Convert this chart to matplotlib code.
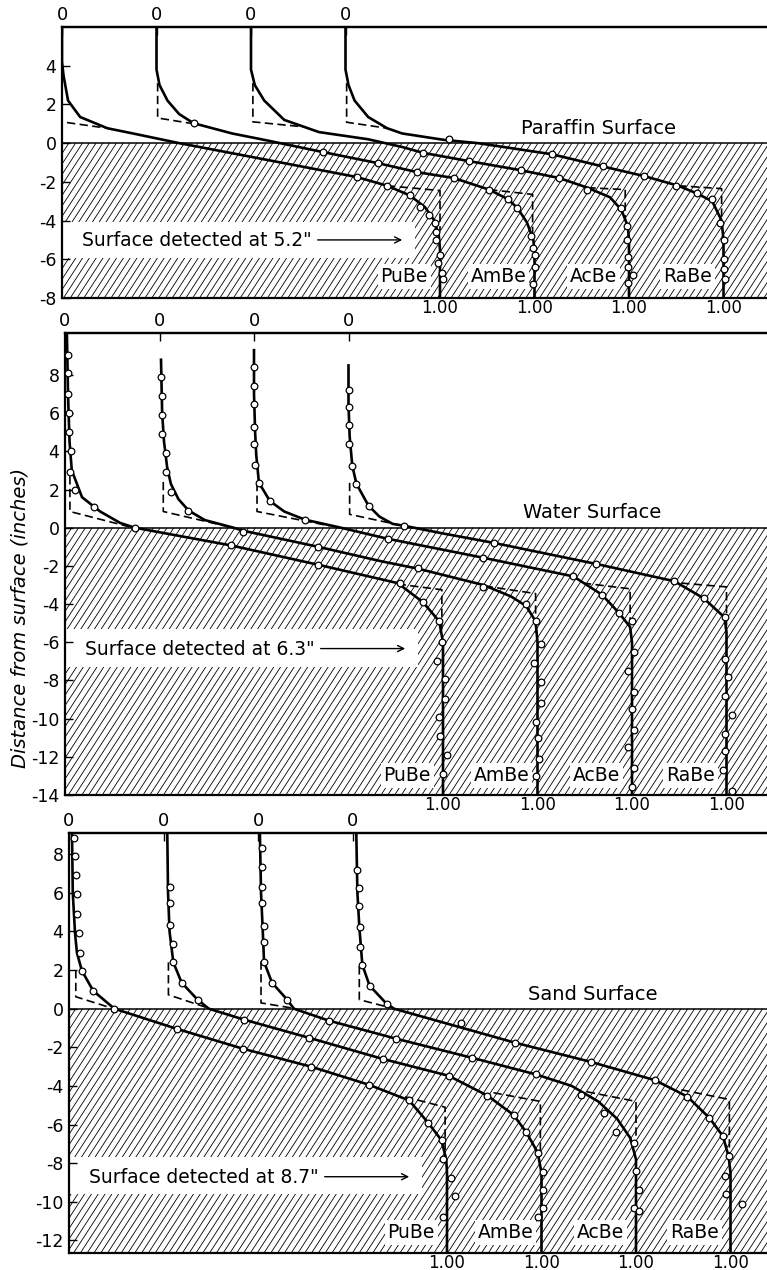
import numpy as np
import matplotlib
matplotlib.use("Agg")
import matplotlib.pyplot as plt
from matplotlib.collections import LineCollection
from matplotlib.patches import Rectangle

plt.rcParams['font.family'] = ['DejaVu Sans']
plt.rcParams['axes.unicode_minus'] = False

# ---------------- data ----------------
sources = ['PuBe', 'AmBe', 'AcBe', 'RaBe']
source_offsets = [0.0, 0.25, 0.5, 0.75]
surface_names = ['Paraffin Surface', 'Water Surface', 'Sand Surface']
detected_labels = ['5.2', '6.3', '8.7']
detected_text_y = [-5.05, -6.38, -8.75]
panel_ylim = [(-8.0, 6.0), (-14.0, 10.2), (-12.65, 9.1)]
panel_yticks = [list(range(-8, 5, 2)), list(range(-14, 9, 2)), list(range(-12, 9, 2))]

# --- Paraffin ---
paraffin_line_x = [
    [0.0, 0.0, 0.004, 0.016, 0.048, 0.12, 0.20, 0.31, 0.45, 0.60, 0.78, 0.86, 0.92, 0.96, 0.985, 0.997, 1.0, 1.0],
    [0.0, 0.0, 0.008, 0.029, 0.06, 0.098, 0.2, 0.29, 0.44, 0.585, 0.69, 0.786, 0.88, 0.93, 0.955, 0.98, 0.997, 1.0, 1.0],
    [0.0, 0.0, 0.01, 0.035, 0.088, 0.18, 0.31, 0.40, 0.455, 0.577, 0.714, 0.815, 0.89, 0.95, 0.98, 0.997, 1.0, 1.0],
    [0.0, 0.0, 0.008, 0.024, 0.06, 0.11, 0.15, 0.26, 0.35, 0.545, 0.68, 0.79, 0.88, 0.93, 0.97, 0.995, 1.0, 1.0],
]
paraffin_line_y = [
    [6.0, 4.2, 3.5, 2.2, 1.35, 0.77, 0.45, 0.0, -0.52, -1.08, -1.75, -2.2, -2.7, -3.3, -4.0, -4.8, -5.5, -8.0],
    [6.0, 3.8, 3.0, 2.2, 1.5, 1.03, 0.5, 0.15, -0.46, -1.03, -1.5, -1.8, -2.4, -2.9, -3.35, -4.1, -5.0, -5.6, -8.0],
    [6.0, 3.8, 3.0, 2.2, 1.2, 0.57, 0.2, -0.2, -0.5, -0.93, -1.4, -1.8, -2.3, -2.8, -3.45, -4.3, -5.0, -8.0],
    [6.0, 3.8, 3.0, 2.2, 1.35, 0.77, 0.5, 0.17, 0.0, -0.57, -1.2, -1.7, -2.2, -2.6, -3.0, -4.0, -5.0, -8.0],
]
paraffin_dash_top_x = [[0.0, 0.0, 0.12], [0.003, 0.003, 0.098], [0.005, 0.005, 0.14], [0.003, 0.003, 0.11]]
paraffin_dash_top_y = [[2.8, 1.1, 0.77], [3.1, 1.3, 1.0], [3.1, 1.1, 0.84], [3.1, 1.08, 0.77]]
paraffin_dash_bot_x = [[0.86, 1.0, 1.0], [0.88, 0.995, 0.995], [0.89, 0.99, 0.99], [0.88, 0.995, 0.995]]
paraffin_dash_bot_y = [[-2.2, -2.45, -4.5], [-2.4, -2.65, -5.0], [-2.3, -2.4, -4.0], [-2.2, -2.35, -4.0]]
paraffin_pts_x = [
    [0.78, 0.86, 0.92, 0.947, 0.97, 0.987, 0.99, 0.99, 1.0, 0.995, 1.005, 1.008],
    [0.098, 0.44, 0.585, 0.69, 0.786, 0.88, 0.93, 0.955, 0.99, 0.995, 1.0, 1.0, 0.997],
    [0.455, 0.577, 0.714, 0.815, 0.89, 0.98, 0.995, 0.995, 0.997, 0.997, 1.01, 0.997],
    [0.275, 0.545, 0.68, 0.79, 0.875, 0.93, 0.97, 0.99, 1.0, 1.0, 1.0, 1.005],
]
paraffin_pts_y = [
    [-1.75, -2.2, -2.7, -3.3, -3.7, -4.1, -4.6, -5.0, -5.8, -6.2, -6.7, -7.0],
    [1.03, -0.46, -1.03, -1.5, -1.8, -2.4, -2.9, -3.35, -4.8, -5.4, -5.8, -6.4, -7.3],
    [-0.5, -0.93, -1.4, -1.8, -2.4, -3.35, -4.3, -5.0, -5.9, -6.4, -6.8, -7.2],
    [0.2, -0.57, -1.2, -1.7, -2.2, -2.6, -2.9, -4.1, -5.0, -6.0, -6.5, -7.0],
]

# --- Water ---
water_line_x = [
    [0.005, 0.008, 0.012, 0.018, 0.045, 0.093, 0.146, 0.185, 0.30, 0.44, 0.67, 0.88, 0.947, 0.99, 1.0, 1.0],
    [0.004, 0.007, 0.012, 0.02, 0.03, 0.05, 0.077, 0.12, 0.196, 0.22, 0.42, 0.585, 0.685, 0.857, 0.93, 0.97, 0.995, 1.0, 1.0],
    [0.0, 0.0, 0.003, 0.006, 0.013, 0.042, 0.08, 0.135, 0.23, 0.354, 0.606, 0.845, 0.92, 0.965, 0.995, 1.0, 1.0],
    [0.0, 0.0, 0.003, 0.01, 0.021, 0.053, 0.082, 0.117, 0.148, 0.25, 0.386, 0.656, 0.862, 0.94, 0.995, 1.0, 1.0],
]
water_line_y = [
    [10.2, 7.0, 4.5, 3.0, 1.6, 0.85, 0.25, 0.0, -0.42, -0.93, -1.94, -2.9, -3.9, -4.9, -6.0, -14.0],
    [8.8, 6.0, 4.5, 3.2, 2.3, 1.5, 0.9, 0.4, 0.0, -0.15, -1.0, -1.75, -2.15, -3.0, -3.6, -4.1, -4.9, -6.0, -14.0],
    [9.3, 7.0, 5.0, 3.8, 2.36, 1.4, 0.85, 0.42, 0.0, -0.58, -1.57, -2.55, -3.5, -4.45, -5.2, -6.0, -14.0],
    [8.5, 6.5, 4.8, 3.25, 2.3, 1.15, 0.58, 0.2, 0.1, -0.3, -0.8, -1.9, -2.8, -3.7, -4.7, -5.5, -14.0],
]
water_dash_top_x = [[0.013, 0.013, 0.17], [0.01, 0.01, 0.19], [0.008, 0.008, 0.2], [0.003, 0.003, 0.14]]
water_dash_top_y = [[2.7, 0.85, 0.05], [2.4, 0.85, 0.02], [2.35, 0.85, 0.1], [2.35, 0.7, 0.12]]
water_dash_bot_x = [[0.88, 0.997, 0.997], [0.86, 0.995, 0.995], [0.87, 0.995, 0.995], [0.88, 1.0, 1.0]]
water_dash_bot_y = [[-2.95, -3.25, -5.5], [-3.05, -3.45, -5.5], [-2.9, -3.2, -5.0], [-2.9, -3.1, -5.4]]
water_pts_x = [
    [0.008, 0.008, 0.008, 0.01, 0.01, 0.016, 0.013, 0.026, 0.077, 0.185, 0.44, 0.67, 0.886, 0.947, 0.99,
     0.997, 0.984, 1.005, 1.005, 0.99, 0.992, 1.01, 1.0],
    [0.004, 0.007, 0.007, 0.007, 0.017, 0.017, 0.03, 0.075, 0.22, 0.42, 0.685, 0.857, 0.97, 0.995,
     1.01, 0.99, 1.01, 1.01, 0.995, 1.0, 1.005, 0.995],
    [0.0, 0.0, 0.0, 0.0, 0.0, 0.003, 0.013, 0.042, 0.135, 0.354, 0.606, 0.845, 0.92, 0.965, 1.0,
     1.005, 0.99, 1.005, 1.0, 1.005, 0.99, 1.005, 1.0],
    [0.0, 0.0, 0.0, 0.0, 0.01, 0.021, 0.053, 0.148, 0.386, 0.656, 0.862, 0.94, 0.995,
     0.995, 1.005, 0.995, 1.015, 0.997, 0.997, 0.99, 1.015],
]
water_pts_y = [
    [9.06, 8.1, 7.0, 6.0, 5.0, 4.0, 2.9, 2.0, 1.1, 0.0, -0.93, -1.94, -2.9, -3.9, -4.9,
     -5.97, -6.96, -7.9, -8.95, -9.94, -10.9, -11.9, -12.9],
    [7.9, 6.9, 5.9, 4.9, 3.9, 2.9, 1.85, 0.9, -0.2, -1.0, -2.1, -3.1, -4.0, -4.9,
     -6.1, -7.1, -8.1, -9.2, -10.2, -11.0, -12.1, -13.0],
    [8.4, 7.4, 6.5, 5.3, 4.4, 3.3, 2.36, 1.4, 0.42, -0.58, -1.57, -2.55, -3.5, -4.45, -4.9,
     -6.5, -7.5, -8.6, -9.5, -10.6, -11.5, -12.6, -13.6],
    [7.2, 6.3, 5.4, 4.4, 3.25, 2.3, 1.15, 0.1, -0.8, -1.9, -2.8, -3.7, -4.7,
     -6.9, -7.8, -8.8, -9.8, -10.8, -11.7, -12.7, -13.8],
]

# --- Sand ---
sand_line_x = [
    [0.008, 0.01, 0.016, 0.021, 0.034, 0.064, 0.12, 0.285, 0.46, 0.64, 0.794, 0.9, 0.95, 0.985, 0.998, 1.0, 1.0],
    [0.01, 0.012, 0.016, 0.026, 0.048, 0.09, 0.12, 0.214, 0.384, 0.58, 0.754, 0.857, 0.926, 0.96, 0.99, 1.0, 1.0],
    [0.005, 0.008, 0.012, 0.016, 0.037, 0.077, 0.095, 0.188, 0.365, 0.566, 0.735, 0.83, 0.9, 0.95, 0.985, 1.0, 1.0],
    [0.01, 0.013, 0.018, 0.026, 0.045, 0.09, 0.11, 0.27, 0.43, 0.63, 0.8, 0.886, 0.944, 0.98, 0.995, 1.0, 1.0],
]
sand_line_y = [
    [9.1, 6.0, 3.9, 2.9, 1.97, 0.93, 0.0, -1.04, -2.07, -3.0, -3.94, -4.75, -5.9, -6.8, -7.8, -8.5, -12.65],
    [9.1, 6.0, 4.0, 2.4, 1.35, 0.47, 0.0, -0.57, -1.5, -2.6, -3.47, -4.5, -5.5, -6.4, -7.45, -8.5, -12.65],
    [9.1, 6.0, 4.3, 2.43, 1.35, 0.47, 0.0, -0.62, -1.55, -2.54, -3.4, -4.0, -4.8, -5.7, -6.7, -7.8, -12.65],
    [9.1, 6.0, 4.25, 2.28, 1.2, 0.26, 0.0, -0.88, -1.76, -2.75, -3.7, -4.55, -5.65, -6.6, -7.65, -8.5, -12.65],
]
sand_dash_top_x = [[0.018, 0.018, 0.11], [0.013, 0.013, 0.116], [0.008, 0.008, 0.095], [0.018, 0.018, 0.1]]
sand_dash_top_y = [[2.0, 0.62, 0.05], [2.4, 0.72, 0.05], [2.45, 0.3, 0.02], [2.2, 0.47, 0.05]]
sand_dash_bot_x = [[0.889, 0.995, 0.995], [0.873, 0.997, 0.997], [0.87, 1.0, 1.0], [0.87, 0.997, 0.997]]
sand_dash_bot_y = [[-4.56, -5.1, -7.8], [-4.35, -4.8, -7.5], [-4.3, -4.8, -7.0], [-4.2, -4.7, -7.5]]
sand_pts_x = [
    [0.013, 0.016, 0.018, 0.021, 0.021, 0.026, 0.029, 0.034, 0.063, 0.12, 0.285, 0.46, 0.64, 0.794,
     0.9, 0.95, 0.987, 0.99, 1.01, 1.02, 0.99],
    [0.016, 0.016, 0.016, 0.024, 0.026, 0.048, 0.09, 0.214, 0.384, 0.58, 0.754, 0.857, 0.926, 0.958,
     0.992, 1.005, 1.005, 1.005, 0.992],
    [0.01, 0.01, 0.01, 0.01, 0.016, 0.016, 0.016, 0.037, 0.077, 0.188, 0.365, 0.566, 0.735, 0.855,
     0.915, 0.947, 0.995, 1.0, 1.008, 0.995, 1.008],
    [0.013, 0.016, 0.016, 0.019, 0.021, 0.026, 0.045, 0.09, 0.286, 0.43, 0.63, 0.8, 0.886, 0.944,
     0.98, 0.995, 0.985, 0.987, 1.03],
]
sand_pts_y = [
    [8.86, 7.9, 6.95, 5.96, 4.9, 3.9, 2.9, 1.97, 0.93, 0.0, -1.04, -2.07, -3.0, -3.94,
     -4.75, -5.9, -6.8, -7.8, -8.76, -9.7, -10.8],
    [6.3, 5.5, 4.35, 3.37, 2.4, 1.35, 0.47, -0.57, -1.5, -2.6, -3.47, -4.5, -5.5, -6.4,
     -7.45, -8.45, -9.4, -10.3, -10.8],
    [8.3, 7.35, 6.3, 5.5, 4.3, 3.47, 2.43, 1.35, 0.47, -0.62, -1.55, -2.54, -3.4, -4.45,
     -5.4, -6.4, -6.96, -8.4, -9.4, -10.3, -10.5],
    [7.2, 6.25, 5.3, 4.25, 3.2, 2.28, 1.2, 0.26, -0.73, -1.75, -2.75, -3.7, -4.55, -5.65,
     -6.6, -7.65, -8.65, -9.6, -10.1],
]

panels = [
    (paraffin_line_x, paraffin_line_y, paraffin_dash_top_x, paraffin_dash_top_y,
     paraffin_dash_bot_x, paraffin_dash_bot_y, paraffin_pts_x, paraffin_pts_y),
    (water_line_x, water_line_y, water_dash_top_x, water_dash_top_y,
     water_dash_bot_x, water_dash_bot_y, water_pts_x, water_pts_y),
    (sand_line_x, sand_line_y, sand_dash_top_x, sand_dash_top_y,
     sand_dash_bot_x, sand_dash_bot_y, sand_pts_x, sand_pts_y),
]

# ---------------- layout (pixels) ----------------
W, H = 767, 1270
PX_PER_UNIT = 378.0
panel_geom = [(62, 27, 298), (65, 333, 795), (69, 833, 1253)]  # left, top, bottom
surface_label_x = [1.418, 1.394, 1.386]
surface_label_y = [0.46, 0.52, 0.47]
label_box_y = [(-5.95, -4.05), (-7.3, -5.3), (-9.6, -7.7)]
src_label_y = [-6.9, -12.98, -11.6]

fig = plt.figure(figsize=(W / 100, H / 100), dpi=100)

axes = []
for p, (left, top, bottom) in enumerate(panel_geom):
    ax = fig.add_axes([left / W, 1 - bottom / H, (W - left) / W, (bottom - top) / H])
    axes.append(ax)
    xmax = (W - left) / PX_PER_UNIT
    ymin, ymax = panel_ylim[p]
    ax.set_xlim(0, xmax)
    ax.set_ylim(ymin, ymax)
    for s in ['left', 'top', 'bottom']:
        ax.spines[s].set_linewidth(1.6)
    ax.spines['right'].set_visible(False)

    # hatch below surface
    w_px = W - left
    h_px = bottom - top
    y0_frac = (0 - ymin) / (ymax - ymin)
    hh = y0_frac * h_px
    ang = np.radians(57)
    dx = hh / np.tan(ang)
    xs = np.arange(-dx, w_px + 5, 6.8)
    segs = [[(x / w_px, 0.0), ((x + dx) / w_px, y0_frac)] for x in xs]
    lc = LineCollection(segs, transform=ax.transAxes, colors='black', linewidths=0.6, zorder=1)
    ax.add_collection(lc)

    # white box behind "surface detected"
    b0, b1 = label_box_y[p]
    ax.add_patch(Rectangle((0, b0), 0.935, b1 - b0, facecolor='white', edgecolor='none', zorder=1.5))

    ax.axhline(0, color='black', lw=1.1, zorder=2)

    lx, ly, dtx, dty, dbx, dby, px_, py_ = panels[p]
    for k, off in enumerate(source_offsets):
        ax.plot(np.array(dtx[k]) + off, dty[k], color='black', lw=1.2, dashes=[5, 2.6], zorder=3)
        ax.plot(np.array(dbx[k]) + off, dby[k], color='black', lw=1.2, dashes=[5, 2.6], zorder=3)
        ax.plot(np.array(lx[k]) + off, ly[k], color='black', lw=1.9, zorder=4, solid_joinstyle='round')
        ax.plot(np.array(px_[k]) + off, py_[k], 'o', mfc='white', mec='black', ms=4.8, mew=0.9, zorder=5)
        ax.text(off + 0.905, src_label_y[p], sources[k], ha='center', va='center', fontsize=13.5,
                zorder=3.5, bbox=dict(facecolor='white', edgecolor='none', pad=2.0))

    ax.text(surface_label_x[p], surface_label_y[p], surface_names[p], ha='center', va='baseline',
            fontsize=14, zorder=3.5)

    # ticks
    ax.set_yticks(panel_yticks[p])
    ax.set_yticklabels([str(v) for v in panel_yticks[p]])
    ax.tick_params(axis='y', direction='in', length=6, width=1.0, labelsize=12.5, pad=4)
    ax.set_xticks([o + 1.0 for o in source_offsets])
    ax.set_xticklabels(['1.00'] * 4)
    ax.tick_params(axis='x', direction='in', length=0, labelsize=12, pad=1.0)
    sec = ax.secondary_xaxis('top')
    sec.set_xticks(source_offsets)
    sec.set_xticklabels(['0'] * 4)
    sec.tick_params(direction='in', length=6, width=1.0, labelsize=13, pad=2)
    sec.spines['top'].set_linewidth(1.6)

# surface detected texts and arrows
texts = []
for p, ax in enumerate(axes):
    t = ax.text(0.053, detected_text_y[p], 'Surface detected at ' + detected_labels[p] + '"',
                ha='left', va='center', fontsize=13.5, zorder=3.5)
    texts.append(t)

fig.canvas.draw()
for p, ax in enumerate(axes):
    bb = texts[p].get_window_extent()
    x_end = ax.transData.inverted().transform((bb.x1 + 6, 0))[0]
    ax.annotate('', xy=(0.9, detected_text_y[p] + 0.05), xytext=(x_end, detected_text_y[p] + 0.05),
                arrowprops=dict(arrowstyle='->', lw=1.0, color='black', shrinkA=0, shrinkB=0,
                                mutation_scale=11), zorder=3.5)

fig.text(20 / W, 1 - 618 / H, 'Distance from surface (inches)', rotation=90, ha='center',
         va='center', fontsize=14, style='italic')

fig.savefig('out.png', dpi=100)
